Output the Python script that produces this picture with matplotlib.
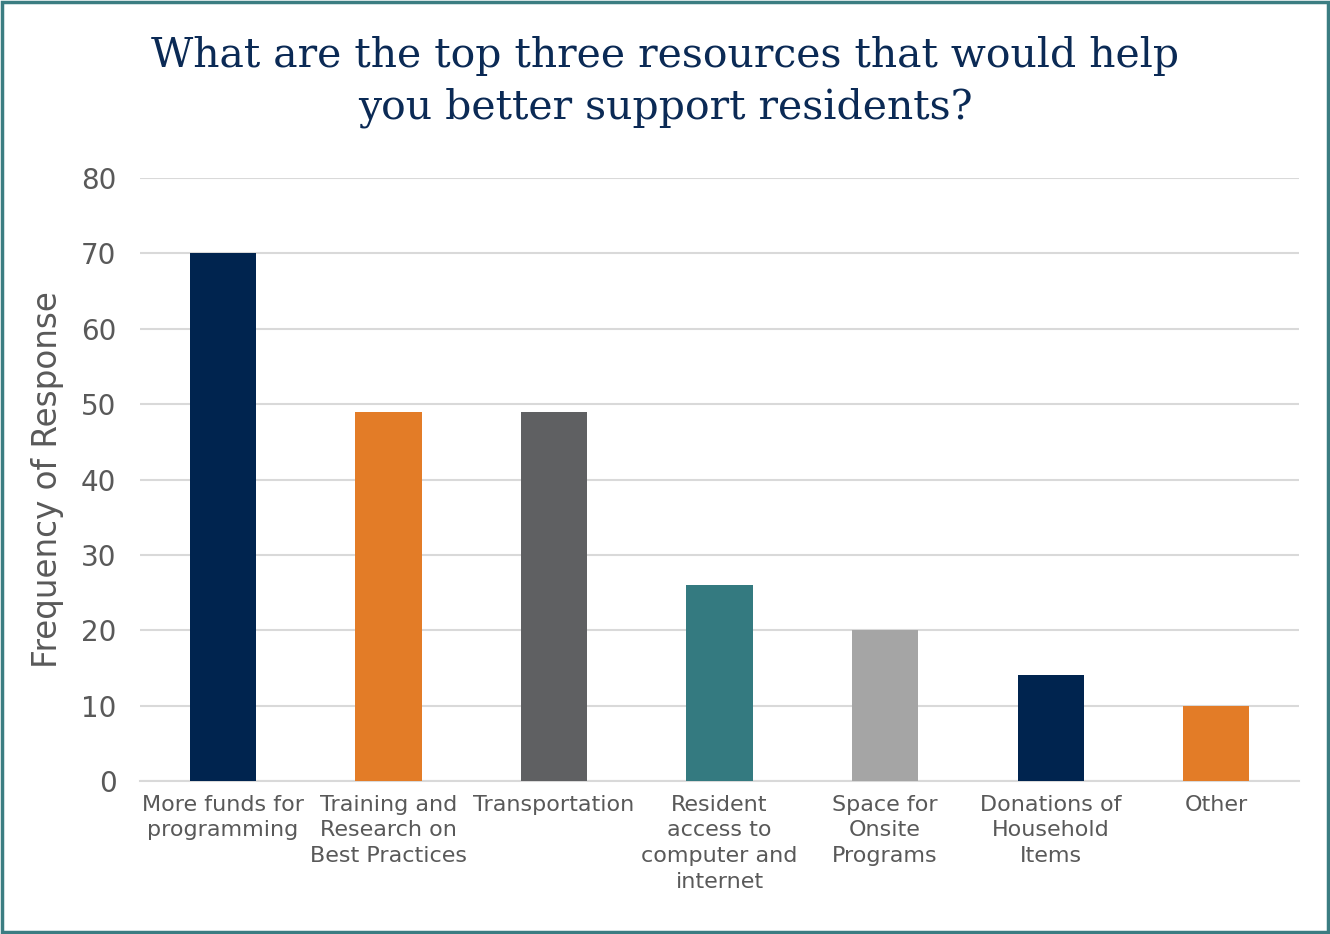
import matplotlib
matplotlib.use('Agg')

import matplotlib.pyplot as plt
import matplotlib.patches as patches
import numpy as np

categories = ['More funds for\nprogramming', 'Training and\nResearch on\nBest Practices',
              'Transportation', 'Resident\naccess to\ncomputer and\ninternet',
              'Space for\nOnsite\nPrograms', 'Donations of\nHousehold\nItems', 'Other']
values = [70, 49, 49, 26, 20, 14, 10]
colors = ['#00244f', '#e37c27', '#5f6062', '#347a80', '#a5a5a5', '#00244f', '#e37c27']
yticks = [0, 10, 20, 30, 40, 50, 60, 70, 80]

fig = plt.figure(figsize=(13.3, 9.34), dpi=100)
ax = fig.add_axes([0.1053, 0.1638, 0.8714, 0.6456])

x = np.arange(len(categories))
ax.bar(x, values, width=0.4, color=colors, zorder=3)

ax.set_xlim(-0.5, len(categories) - 0.5)
ax.set_ylim(0, 80)
ax.set_yticks(yticks)
ax.yaxis.grid(True, color='#d9d9d9', linewidth=1.5, zorder=0)
ax.set_axisbelow(True)
for s in ['top', 'right', 'left']:
    ax.spines[s].set_visible(False)
ax.spines['bottom'].set_color('#d9d9d9')
ax.spines['bottom'].set_linewidth(1.5)
ax.tick_params(axis='both', length=0, colors='#595959')
ax.tick_params(axis='y', labelsize=20, pad=17)
ax.set_xticks(x)
ax.set_xticklabels(categories, fontsize=16, linespacing=1.35, va='top')
ax.tick_params(axis='x', pad=10)
ax.set_ylabel('Frequency of Response', fontsize=23.5, color='#595959', labelpad=12)

fig.text(0.5, 0.961, 'What are the top three resources that would help\nyou better support residents?',
         ha='center', va='top', fontsize=29.5, family='DejaVu Serif', color='#0b2a55',
         linespacing=1.35)

fig.patches.append(patches.Rectangle((0.0015, 0.002), 0.997, 0.996, transform=fig.transFigure,
                                     fill=False, edgecolor='#3b7d82', linewidth=2.5))

plt.savefig('out.png')
